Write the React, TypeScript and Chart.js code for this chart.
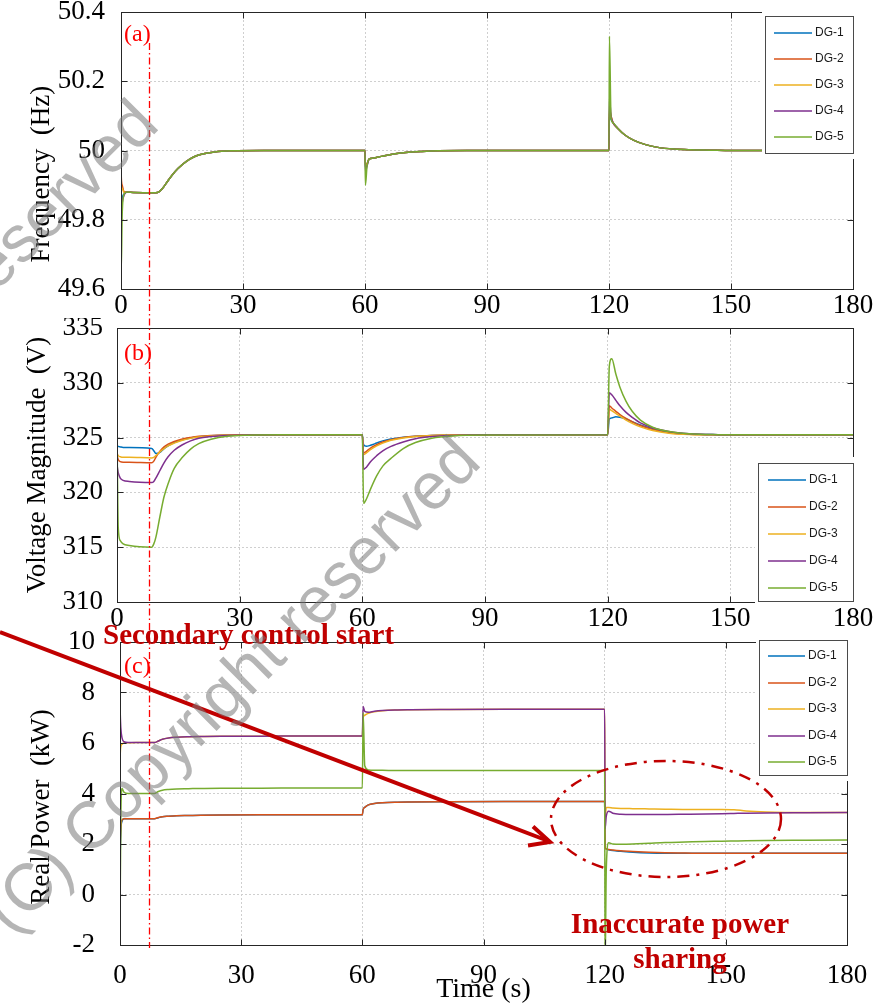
import React, { useEffect, useRef } from 'react';
import { Chart, registerables } from 'chart.js';

Chart.register(...registerables);

// ---------------- data ----------------
const seriesNames = ['DG-1', 'DG-2', 'DG-3', 'DG-4', 'DG-5'];
const seriesColors = ['#0072BD', '#D95319', '#EDB120', '#7E2F8E', '#77AC30'];
const timeTickStep = 30;

// (a) frequency (Hz)
const freqTime = [0, 0.05, 0.3, 0.8, 1.5, 3, 8.5, 9.5, 10.5, 11.5, 12.5, 14, 16, 18, 20, 23, 27, 35, 45, 59.9, 60, 60.1, 60.5, 61, 62, 64, 67, 70, 74, 78, 85, 100, 119.9, 120, 120.1, 120.5, 121, 122, 124, 126, 129, 132, 136, 140, 145, 150, 160, 180];
const freqDG1 = [50.0, 49.8, 49.86, 49.875, 49.88, 49.879, 49.878, 49.882, 49.895, 49.912, 49.928, 49.948, 49.968, 49.982, 49.99, 49.996, 49.999, 50.0, 50.0, 50.0, 50.0, 49.95, 49.96, 49.975, 49.978, 49.983, 49.99, 49.994, 49.997, 49.999, 50.0, 50.0, 50.0, 50.0, 50.1, 50.09, 50.08, 50.066, 50.044, 50.03, 50.017, 50.009, 50.004, 50.002, 50.001, 50.0, 50.0, 50.0];
const freqDG2 = [50.0, 49.93, 49.9, 49.88, 49.88, 49.879, 49.878, 49.882, 49.895, 49.912, 49.928, 49.948, 49.968, 49.982, 49.99, 49.996, 49.999, 50.0, 50.0, 50.0, 50.0, 49.96, 49.962, 49.975, 49.978, 49.983, 49.99, 49.994, 49.997, 49.999, 50.0, 50.0, 50.0, 50.0, 50.12, 50.1, 50.08, 50.066, 50.044, 50.03, 50.017, 50.009, 50.004, 50.002, 50.001, 50.0, 50.0, 50.0];
const freqDG3 = [50.0, 49.9, 49.89, 49.878, 49.88, 49.879, 49.878, 49.882, 49.895, 49.912, 49.928, 49.948, 49.968, 49.982, 49.99, 49.996, 49.999, 50.0, 50.0, 50.0, 50.0, 49.955, 49.96, 49.975, 49.978, 49.983, 49.99, 49.994, 49.997, 49.999, 50.0, 50.0, 50.0, 50.0, 50.11, 50.095, 50.08, 50.066, 50.044, 50.03, 50.017, 50.009, 50.004, 50.002, 50.001, 50.0, 50.0, 50.0];
const freqDG4 = [50.0, 49.82, 49.85, 49.872, 49.88, 49.879, 49.878, 49.882, 49.895, 49.912, 49.928, 49.948, 49.968, 49.982, 49.99, 49.996, 49.999, 50.0, 50.0, 50.0, 50.0, 49.94, 49.955, 49.975, 49.978, 49.983, 49.99, 49.994, 49.997, 49.999, 50.0, 50.0, 50.0, 50.0, 50.15, 50.1, 50.08, 50.066, 50.044, 50.03, 50.017, 50.009, 50.004, 50.002, 50.001, 50.0, 50.0, 50.0];
const freqDG5 = [50.0, 49.65, 49.82, 49.875, 49.88, 49.879, 49.878, 49.882, 49.895, 49.912, 49.928, 49.948, 49.968, 49.982, 49.99, 49.996, 49.999, 50.0, 50.0, 50.0, 50.0, 49.9, 49.955, 49.975, 49.978, 49.983, 49.99, 49.994, 49.997, 49.999, 50.0, 50.0, 50.0, 50.0, 50.33, 50.095, 50.08, 50.066, 50.044, 50.03, 50.017, 50.009, 50.004, 50.002, 50.001, 50.0, 50.0, 50.0];

// (b) voltage magnitude (V)
const voltTime = [0, 0.3, 0.8, 1.5, 3, 8.5, 9, 9.5, 10.5, 11.5, 12.5, 14, 16, 18, 20, 23, 27, 32, 40, 59.9, 60, 60.3, 61, 62, 63.5, 65, 67, 70, 73, 77, 82, 90, 119.9, 120, 120.4, 121, 122, 123, 124.5, 126, 128, 131, 135, 140, 147, 155, 180];
const voltDG1 = [324.3, 324.2, 324.15, 324.1, 324.1, 324.0, 323.8, 323.55, 323.65, 324.0, 324.25, 324.55, 324.8, 324.97, 325.07, 325.16, 325.21, 325.24, 325.25, 325.25, 325.25, 324.35, 324.2, 324.3, 324.5, 324.7, 324.87, 325.03, 325.13, 325.2, 325.24, 325.25, 325.25, 325.25, 326.7, 326.8, 326.9, 326.85, 326.7, 326.45, 326.15, 325.8, 325.5, 325.33, 325.27, 325.25, 325.25];
const voltDG2 = [323.4, 323.0, 322.8, 322.75, 322.75, 322.7, 322.85, 323.2, 323.75, 324.15, 324.4, 324.65, 324.88, 325.02, 325.12, 325.19, 325.23, 325.25, 325.25, 325.25, 325.25, 323.6, 323.75, 324.05, 324.35, 324.6, 324.8, 325.0, 325.12, 325.2, 325.24, 325.25, 325.25, 325.25, 327.9, 327.7, 327.4, 327.1, 326.75, 326.45, 326.1, 325.75, 325.45, 325.3, 325.26, 325.25, 325.25];
const voltDG3 = [323.6, 323.35, 323.25, 323.2, 323.2, 323.15, 323.2, 323.35, 323.7, 324.0, 324.25, 324.5, 324.76, 324.93, 325.05, 325.15, 325.21, 325.24, 325.25, 325.25, 325.25, 323.45, 323.6, 323.9, 324.25, 324.5, 324.75, 324.97, 325.1, 325.19, 325.23, 325.25, 325.25, 325.25, 327.6, 327.45, 327.2, 326.95, 326.6, 326.3, 325.98, 325.65, 325.4, 325.28, 325.25, 325.25, 325.25];
const voltDG4 = [322.5, 321.8, 321.3, 321.1, 321.0, 320.9, 321.0, 321.3, 322.0, 322.7, 323.25, 323.85, 324.35, 324.7, 324.95, 325.1, 325.2, 325.24, 325.25, 325.25, 325.25, 322.1, 322.3, 322.8, 323.35, 323.8, 324.2, 324.6, 324.9, 325.1, 325.2, 325.25, 325.25, 325.25, 329.1, 328.9, 328.4, 327.9, 327.3, 326.85, 326.35, 325.9, 325.55, 325.35, 325.27, 325.25, 325.25];
const voltDG5 = [325.3, 316.8, 315.6, 315.3, 315.15, 315.0, 315.3, 315.9, 317.8, 319.6, 320.8, 322.2, 323.2, 323.95, 324.45, 324.85, 325.12, 325.22, 325.25, 325.25, 325.25, 319.0, 319.4, 320.3, 321.5, 322.4, 323.1, 324.0, 324.55, 324.95, 325.15, 325.23, 325.25, 325.25, 331.5, 332.2, 330.8, 329.6, 328.3, 327.4, 326.6, 325.95, 325.55, 325.35, 325.27, 325.25, 325.25];

// (c) real power (kW)
const powerTime = [0, 0.05, 0.2, 0.5, 1, 2, 4, 8.5, 9.5, 10.5, 12, 14, 17, 20, 25, 35, 45, 59.9, 60, 60.2, 60.6, 61.5, 63, 65, 68, 72, 80, 95, 119.9, 120, 120.1, 120.4, 121, 122, 124, 127, 131, 135, 140, 145, 149, 152, 155, 160, 170, 180];
const powerDG1 = [0.5, 1.5, 2.5, 2.9, 3.0, 3.0, 3.0, 3.0, 3.04, 3.08, 3.1, 3.12, 3.13, 3.14, 3.15, 3.16, 3.16, 3.16, 3.16, 3.37, 3.45, 3.55, 3.6, 3.63, 3.65, 3.66, 3.67, 3.68, 3.68, 3.68, 1.9, 1.8, 1.77, 1.74, 1.71, 1.67, 1.64, 1.63, 1.63, 1.63, 1.63, 1.63, 1.63, 1.63, 1.63, 1.63];
const powerDG2 = [1.0, 1.8, 2.6, 2.95, 3.0, 3.0, 3.0, 3.0, 3.05, 3.08, 3.1, 3.12, 3.13, 3.14, 3.15, 3.16, 3.16, 3.16, 3.16, 3.37, 3.45, 3.55, 3.6, 3.63, 3.65, 3.66, 3.67, 3.68, 3.68, 3.68, 1.9, 1.8, 1.78, 1.76, 1.73, 1.7, 1.67, 1.65, 1.64, 1.63, 1.63, 1.63, 1.63, 1.63, 1.63, 1.63];
const powerDG3 = [5.0, 5.5, 5.85, 5.95, 6.0, 6.01, 6.02, 6.02, 6.08, 6.15, 6.2, 6.23, 6.25, 6.26, 6.27, 6.27, 6.28, 6.28, 6.28, 7.0, 7.1, 7.18, 7.24, 7.28, 7.31, 7.32, 7.33, 7.34, 7.34, 7.34, 3.0, 3.45, 3.45, 3.43, 3.41, 3.4, 3.39, 3.38, 3.37, 3.37, 3.37, 3.36, 3.31, 3.27, 3.25, 3.25];
const powerDG4 = [7.5, 7.2, 6.6, 6.2, 6.05, 6.02, 6.02, 6.02, 6.08, 6.15, 6.2, 6.23, 6.25, 6.26, 6.27, 6.27, 6.28, 6.28, 6.28, 7.45, 7.25, 7.22, 7.26, 7.29, 7.31, 7.32, 7.33, 7.34, 7.34, 7.34, 2.6, 3.1, 3.3, 3.22, 3.18, 3.17, 3.17, 3.17, 3.18, 3.19, 3.2, 3.21, 3.22, 3.23, 3.24, 3.25];
const powerDG5 = [10.5, 0.0, 3.0, 4.2, 4.05, 4.0, 4.0, 4.0, 4.08, 4.13, 4.16, 4.18, 4.19, 4.2, 4.21, 4.21, 4.22, 4.22, 4.22, 7.2, 5.1, 4.93, 4.92, 4.92, 4.91, 4.91, 4.91, 4.91, 4.91, 4.91, -3.0, 1.0, 2.05, 2.0, 1.99, 2.0, 2.03, 2.06, 2.08, 2.1, 2.11, 2.12, 2.13, 2.14, 2.15, 2.16];

// ---------------- layout / style ----------------
const SERIF = '"Liberation Serif", "Times New Roman", serif';
const SANS = '"Liberation Sans", Arial, sans-serif';
const W = 891;

type LegendBox = { x: number; y: number; w: number; h: number; row0: number; rowStep: number; line0: number; line1: number; text: number };
type Panel = {
  time: number[]; values: number[][];
  yMin: number; yMax: number; yStep: number; yTitle: string;
  canvasTop: number; canvasHeight: number; padTop: number; padRight: number;
  yWidth: number; xHeight: number; yTickPad: number; xTickPad: number; yTitlePad: number;
  legend: LegendBox; xTitle?: string;
};

const panels: Panel[] = [
  {
    time: freqTime, values: [freqDG1, freqDG2, freqDG3, freqDG4, freqDG5],
    yMin: 49.6, yMax: 50.4, yStep: 0.2, yTitle: 'Frequency\u00a0\u00a0(Hz)' + '\u00a0'.repeat(7),
    canvasTop: 0, canvasHeight: 330, padTop: 12, padRight: W - 853,
    yWidth: 121, xHeight: 330 - 289, yTickPad: 16, xTickPad: 1, yTitlePad: 26,
    legend: { x: 765, y: 16, w: 88, h: 137, row0: 17, rowStep: 26, line0: 9, line1: 47, text: 50 },
  },
  {
    time: voltTime, values: [voltDG1, voltDG2, voltDG3, voltDG4, voltDG5],
    yMin: 310, yMax: 335, yStep: 5, yTitle: 'Voltage Magnitude\u00a0\u00a0(V)',
    canvasTop: 318, canvasHeight: 322, padTop: 10, padRight: W - 853,
    yWidth: 117, xHeight: 640 - 602, yTickPad: 14, xTickPad: 1, yTitlePad: 22,
    legend: { x: 758, y: 145, w: 95, h: 138, row0: 17, rowStep: 27, line0: 10, line1: 48, text: 51 },
  },
  {
    time: powerTime, values: [powerDG1, powerDG2, powerDG3, powerDG4, powerDG5],
    yMin: -2, yMax: 10, yStep: 2, yTitle: 'Real Power\u00a0\u00a0(kW)' + '\u00a0'.repeat(4),
    canvasTop: 630, canvasHeight: 374, padTop: 12, padRight: W - 847,
    yWidth: 120, xHeight: 374 - 315, yTickPad: 25, xTickPad: 15, yTitlePad: 26,
    legend: { x: 759, y: 10, w: 88, h: 135, row0: 16, rowStep: 26.5, line0: 9, line1: 46, text: 49 },
    xTitle: 'Time (s)',
  },
];

const fmt = (v: number | string) => `${+Number(v).toFixed(1)}`;

const panelDecor = {
  id: 'panelDecor',
  afterDatasetsDraw(chart: any) {
    const { ctx, chartArea: a, scales } = chart;
    ctx.save();
    ctx.setLineDash([]);
    ctx.strokeStyle = '#262626';
    ctx.lineWidth = 1;
    const l = Math.round(a.left) + 0.5, t = Math.round(a.top) + 0.5;
    const r = Math.round(a.right) + 0.5, b = Math.round(a.bottom) + 0.5;
    ctx.strokeRect(l, t, r - l, b - t);
    ctx.beginPath();
    scales.x.ticks.forEach((tk: any) => {
      const px = Math.round(scales.x.getPixelForValue(tk.value)) + 0.5;
      ctx.moveTo(px, b); ctx.lineTo(px, b - 6);
      ctx.moveTo(px, t); ctx.lineTo(px, t + 6);
    });
    scales.y.ticks.forEach((tk: any) => {
      const py = Math.round(scales.y.getPixelForValue(tk.value)) + 0.5;
      ctx.moveTo(l, py); ctx.lineTo(l + 6, py);
      ctx.moveTo(r, py); ctx.lineTo(r - 6, py);
    });
    ctx.stroke();
    ctx.restore();
  },
  afterDraw(chart: any, _args: any, opts: any) {
    const lg: LegendBox = opts.legend;
    if (!lg) return;
    const { ctx } = chart;
    ctx.save();
    ctx.setLineDash([]);
    ctx.globalAlpha = 1;
    ctx.fillStyle = '#ffffff';
    ctx.fillRect(lg.x - 3, lg.y - 6, lg.w + 7, lg.h + 12);
    ctx.strokeStyle = '#4a4a4a';
    ctx.lineWidth = 1;
    ctx.strokeRect(lg.x + 0.5, lg.y + 0.5, lg.w, lg.h);
    ctx.font = `12px ${SANS}`;
    ctx.textBaseline = 'middle';
    ctx.textAlign = 'left';
    chart.data.datasets.forEach((ds: any, i: number) => {
      const y = Math.round(lg.y + lg.row0 + i * lg.rowStep);
      ctx.strokeStyle = ds.borderColor;
      ctx.lineWidth = 1.5;
      ctx.beginPath();
      ctx.moveTo(lg.x + lg.line0, y);
      ctx.lineTo(lg.x + lg.line1, y);
      ctx.stroke();
      ctx.fillStyle = '#1a1a1a';
      ctx.fillText(ds.label, lg.x + lg.text, y);
    });
    ctx.restore();
  },
};

function buildConfig(p: Panel): any {
  return {
    type: 'line',
    data: {
      datasets: seriesNames.map((name, i) => ({
        label: name,
        data: p.time.map((t, k) => ({ x: t, y: p.values[i][k] })),
        borderColor: seriesColors[i],
        backgroundColor: seriesColors[i],
        borderWidth: 1.5,
        pointRadius: 0,
        fill: false,
        cubicInterpolationMode: 'monotone',
        order: seriesNames.length - 1 - i,
      })),
    },
    options: {
      responsive: false,
      maintainAspectRatio: false,
      animation: false,
      events: [],
      layout: { padding: { top: p.padTop, right: p.padRight, left: 0, bottom: 0 } },
      plugins: {
        legend: { display: false },
        tooltip: { enabled: false },
        panelDecor: { legend: p.legend },
      },
      scales: {
        x: {
          type: 'linear',
          min: 0,
          max: 180,
          afterFit: (s: any) => { s.height = p.xHeight; s.paddingLeft = 0; s.paddingRight = 0; },
          ticks: { stepSize: timeTickStep, padding: p.xTickPad, autoSkip: false, maxRotation: 0, color: '#000', font: { family: SERIF, size: 27 }, callback: fmt },
          grid: { color: '#cfcfcf', lineWidth: 1, drawTicks: false },
          border: { display: true, color: '#262626', width: 1, dash: [2, 2] },
          title: p.xTitle
            ? { display: true, text: p.xTitle, color: '#000', font: { family: SERIF, size: 28, lineHeight: 1 }, padding: { top: 0, bottom: 0 } }
            : { display: false },
        },
        y: {
          type: 'linear',
          min: p.yMin,
          max: p.yMax,
          afterFit: (s: any) => { s.width = p.yWidth; s.paddingTop = 0; s.paddingBottom = 0; },
          ticks: { stepSize: p.yStep, padding: p.yTickPad, autoSkip: false, color: '#000', font: { family: SERIF, size: 27 }, callback: fmt },
          grid: { color: '#cfcfcf', lineWidth: 1, drawTicks: false },
          border: { display: true, color: '#262626', width: 1, dash: [2, 2] },
          title: { display: true, text: p.yTitle, color: '#000', font: { family: SERIF, size: 27, lineHeight: 1.2 }, padding: { top: p.yTitlePad, bottom: 0 } },
        },
      },
    },
    plugins: [panelDecor],
  };
}

const panelLabels = [
  { text: '(a)', top: 21 },
  { text: '(b)', top: 340 },
  { text: '(c)', top: 653 },
];

export default function App() {
  const refs = [useRef<HTMLCanvasElement>(null), useRef<HTMLCanvasElement>(null), useRef<HTMLCanvasElement>(null)];

  useEffect(() => {
    const charts = panels.map((p, i) => new Chart(refs[i].current as HTMLCanvasElement, buildConfig(p)));
    return () => charts.forEach((c) => c.destroy());
  }, []);

  const darkRed = '#c00000';
  const watermark: React.CSSProperties = {
    position: 'absolute',
    fontFamily: SANS,
    fontSize: 66,
    lineHeight: '66px',
    whiteSpace: 'nowrap',
    color: 'rgba(120,120,120,0.55)',
    transformOrigin: '0 50%',
    transform: 'rotate(-45deg)',
    pointerEvents: 'none',
  };

  return (
    <div style={{ position: 'absolute', left: 0, top: 0, width: W, height: 1004, overflow: 'hidden', background: '#ffffff', fontFamily: SERIF }}>
      {panels.map((p, i) => (
        <canvas
          key={i}
          ref={refs[i]}
          width={W}
          height={p.canvasHeight}
          style={{ position: 'absolute', left: 0, top: p.canvasTop, width: W, height: p.canvasHeight }}
        />
      ))}

      {panelLabels.map((l) => (
        <div key={l.text} style={{ position: 'absolute', left: 124, top: l.top, fontFamily: SERIF, fontSize: 24, lineHeight: '24px', color: '#ff0000' }}>
          {l.text}
        </div>
      ))}

      <svg width={W} height={1004} style={{ position: 'absolute', left: 0, top: 0, pointerEvents: 'none' }}>
        <line x1={149.5} y1={43} x2={149.5} y2={948} stroke="#ff0000" strokeWidth={1.3} strokeDasharray="7 3 1.5 3" />
        <ellipse cx={666} cy={819} rx={115} ry={58} fill="none" stroke={darkRed} strokeWidth={2.5} strokeDasharray="12 7 3 7" />
        <line x1={0} y1={632} x2={547} y2={840.5} stroke={darkRed} strokeWidth={4} />
        <polyline points="533,826.5 550,842 528,845.5" fill="none" stroke={darkRed} strokeWidth={4} strokeLinejoin="miter" />
      </svg>

      <div style={{ position: 'absolute', left: 103, top: 620, fontFamily: SERIF, fontWeight: 'bold', fontSize: 29, lineHeight: '29px', color: darkRed, whiteSpace: 'nowrap' }}>
        Secondary control start
      </div>
      <div style={{ position: 'absolute', left: 530, top: 906, width: 300, textAlign: 'center', fontFamily: SERIF, fontWeight: 'bold', fontSize: 29, lineHeight: '35px', color: darkRed }}>
        Inaccurate power
        <br />
        sharing
      </div>

      <div style={{ ...watermark, left: -5, top: 887 }}>(C) Copyright reserved</div>
      <div style={{ ...watermark, left: -327, top: 550 }}>(C) Copyright reserved</div>
    </div>
  );
}
